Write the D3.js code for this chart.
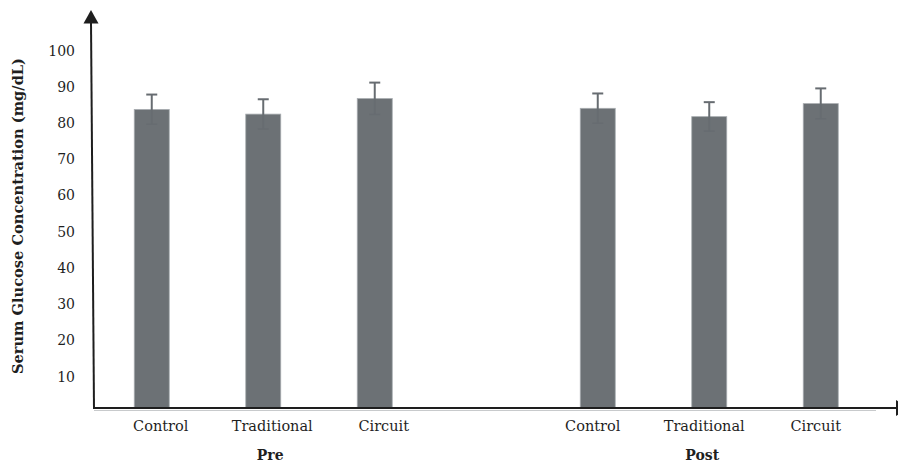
<!DOCTYPE html>
<html>
<head>
<meta charset="utf-8">
<script src="https://cdn.jsdelivr.net/npm/d3@7/dist/d3.min.js"></script>
<style>
  html, body { margin: 0; padding: 0; background: #ffffff; }
  svg { display: block; }
  text { font-family: "DejaVu Serif", "Liberation Serif", serif; fill: #1f1f1f; }
</style>
</head>
<body>
<svg id="chart" width="898" height="463"></svg>
<script>
// Serum glucose (mg/dL), mean and SD per training group, before and after
const groups = ["Pre", "Post"];
const categories = ["Control", "Traditional", "Circuit"];
const preMeans = [83.6, 82.3, 86.6];
const preSD = [4.1, 4.1, 4.4];
const postMeans = [83.9, 81.6, 85.2];
const postSD = [4.1, 4.0, 4.2];
const yTicks = [10, 20, 30, 40, 50, 60, 70, 80, 90, 100];
const yTitle = "Serum Glucose Concentration (mg/dL)";

const rows = [];
groups.forEach((g, gi) => {
  const means = gi === 0 ? preMeans : postMeans;
  const sds = gi === 0 ? preSD : postSD;
  categories.forEach((c, ci) => rows.push({ group: g, category: c, mean: means[ci], sd: sds[ci] }));
});

const svg = d3.select("#chart");
const axisY = 408;        // baseline of the x axis line
const barColor = "#6c7175";
const edgeColor = "#a9adb1";
const errColor = "#676c71";

const y = d3.scaleLinear().domain([0, 100]).range([412.2, 50]);

// Outer band per time point, inner point positions for each group
const xGroup = d3.scaleBand().domain(groups).range([96, 876.5]).paddingInner(0.25).paddingOuter(0);
const xCat = d3.scalePoint().domain(categories).range([0, xGroup.bandwidth()]).padding(0.5);
const barW = xCat.step() * 0.314;
const cx = d => xGroup(d.group) + xCat(d.category);
const labelShift = { Pre: 9, Post: -5 };

// Plot region clip so bars rest on the axis line
svg.append("clipPath").attr("id", "plotClip")
  .append("rect").attr("x", 0).attr("y", 0).attr("width", 898).attr("height", axisY);

const plot = svg.append("g").attr("clip-path", "url(#plotClip)");

plot.selectAll("rect.bar").data(rows).join("rect")
  .attr("class", "bar")
  .attr("x", d => cx(d) - barW / 2)
  .attr("width", barW)
  .attr("y", d => y(d.mean))
  .attr("height", d => y(0) - y(d.mean))
  .attr("fill", barColor)
  .attr("stroke", edgeColor)
  .attr("stroke-width", 0.8);

// Error bars (mean ± SD)
const capW = 11;
const err = svg.append("g").attr("stroke", errColor).attr("stroke-width", 2).attr("fill", "none");
err.selectAll("line.stem").data(rows).join("line")
  .attr("x1", cx).attr("x2", cx)
  .attr("y1", d => y(d.mean + d.sd)).attr("y2", d => y(d.mean - d.sd));
err.selectAll("line.capTop").data(rows).join("line")
  .attr("x1", d => cx(d) - capW / 2).attr("x2", d => cx(d) + capW / 2)
  .attr("y1", d => y(d.mean + d.sd)).attr("y2", d => y(d.mean + d.sd));
err.selectAll("line.capBot").data(rows).join("line")
  .attr("x1", d => cx(d) - capW / 2).attr("x2", d => cx(d) + capW / 2)
  .attr("y1", d => y(d.mean - d.sd)).attr("y2", d => y(d.mean - d.sd))
  .attr("stroke-width", 1.5);

// Y tick labels
const yAxis = d3.axisLeft(y).tickValues(yTicks).tickSize(0).tickPadding(0);
const yg = svg.append("g").attr("transform", "translate(75,0)").call(yAxis);
yg.select(".domain").remove();
yg.selectAll("text")
  .attr("font-family", "DejaVu Serif")
  .attr("font-size", 14)
  .attr("fill", "#222222")
  .attr("dy", "0.36em");

// Axis lines with arrowheads
svg.append("line")
  .attr("x1", 876).attr("x2", 94).attr("y1", axisY + 2.5).attr("y2", axisY + 2.5)
  .attr("stroke", "#c8cacc").attr("stroke-width", 1);
svg.append("line")
  .attr("x1", 93).attr("x2", 897).attr("y1", axisY).attr("y2", axisY)
  .attr("stroke", "#1e1e1e").attr("stroke-width", 2);
svg.append("line")
  .attr("x1", 94).attr("y1", axisY + 1).attr("x2", 91).attr("y2", 22)
  .attr("stroke", "#1e1e1e").attr("stroke-width", 2);
svg.append("path")
  .attr("d", "M91,10 L98.5,23.5 L83.5,23.5 Z")
  .attr("fill", "#1e1e1e");
svg.append("path")
  .attr("d", `M896,${axisY - 8} L910,${axisY} L896,${axisY + 8} Z`)
  .attr("fill", "#1e1e1e");

// Category labels
svg.append("g").selectAll("text").data(rows).join("text")
  .attr("x", d => cx(d) + labelShift[d.group])
  .attr("y", 431)
  .attr("text-anchor", "middle")
  .attr("font-size", 14.5)
  .text(d => d.category);

// Time point labels
svg.append("g").selectAll("text").data(groups).join("text")
  .attr("x", g => xGroup(g) + xCat("Traditional") + labelShift[g] - 2)
  .attr("y", 460)
  .attr("text-anchor", "middle")
  .attr("font-size", 14)
  .attr("font-weight", "bold")
  .text(g => g);

// Y axis title
svg.append("text")
  .attr("transform", "translate(23,216) rotate(-90)")
  .attr("text-anchor", "middle")
  .attr("font-size", 14.6)
  .attr("font-weight", "bold")
  .text(yTitle);
</script>
</body>
</html>
